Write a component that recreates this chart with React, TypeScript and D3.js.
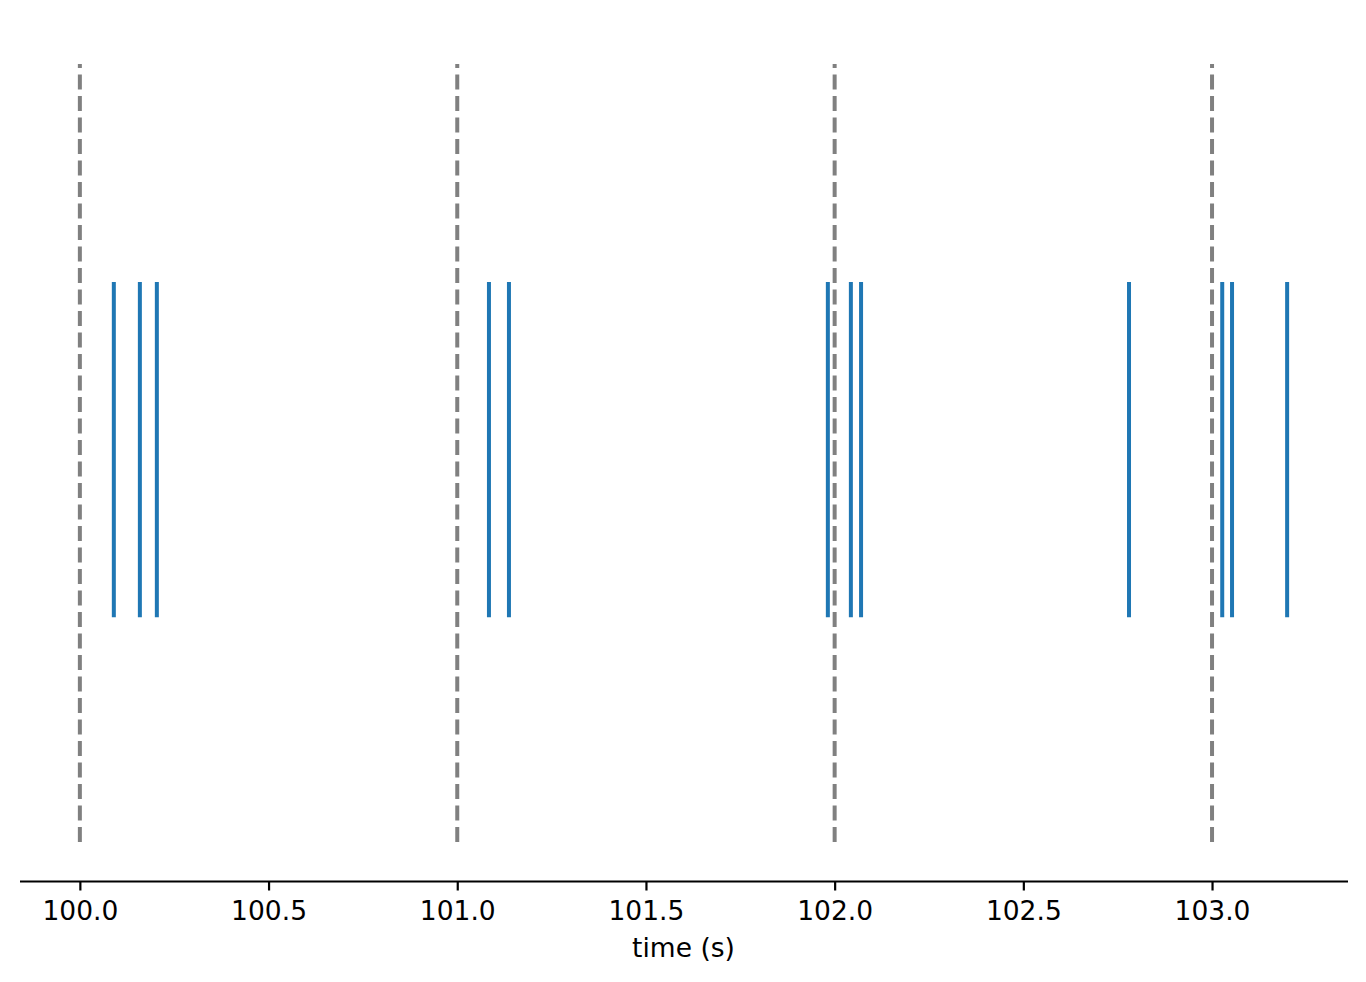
import React, { useEffect, useRef } from "react";
import * as d3 from "d3";

// spike times (s)
const spikeTimes = [
  100.09, 100.159, 100.204, 101.084, 101.137, 101.982, 102.043, 102.07,
  102.78, 103.027, 103.053, 103.199,
];
// second markers
const markerTimes = [100, 101, 102, 103];
const markerSpan = [-0.17, 2.15];
const spikeOffset = 1;
const spikeLength = 1;
const xTicks = [100.0, 100.5, 101.0, 101.5, 102.0, 102.5, 103.0];

const W = 1366;
const H = 982;

const App: React.FC = () => {
  const svgRef = useRef<SVGSVGElement>(null);

  useEffect(() => {
    if (!svgRef.current) return;
    const svg = d3.select(svgRef.current);
    svg.selectAll("*").remove();

    const left = 19.5;
    const right = 1347.5;
    const top = 25;
    const bottom = 881;

    const allX = [...spikeTimes, ...markerTimes];
    const xMin = d3.min(allX) as number;
    const xMax = d3.max(allX) as number;
    const xPad = (xMax - xMin) * 0.05;
    const x = d3
      .scaleLinear()
      .domain([xMin - xPad, xMax + xPad])
      .range([left, right]);

    const yPad = (markerSpan[1] - markerSpan[0]) * 0.05;
    const y = d3
      .scaleLinear()
      .domain([markerSpan[0] - yPad, markerSpan[1] + yPad])
      .range([bottom, top]);

    // dashed second markers
    svg
      .append("g")
      .selectAll("line")
      .data(markerTimes)
      .join("line")
      .attr("x1", (d) => x(d))
      .attr("x2", (d) => x(d))
      .attr("y1", y(markerSpan[0]))
      .attr("y2", y(markerSpan[1]))
      .attr("stroke", "#808080")
      .attr("stroke-width", 4)
      .attr("stroke-dasharray", "15,6.5");

    // spikes
    svg
      .append("g")
      .selectAll("line")
      .data(spikeTimes)
      .join("line")
      .attr("x1", (d) => x(d))
      .attr("x2", (d) => x(d))
      .attr("y1", y(spikeOffset - spikeLength / 2))
      .attr("y2", y(spikeOffset + spikeLength / 2))
      .attr("stroke", "#1f77b4")
      .attr("stroke-width", 4);

    // x axis
    const axis = svg
      .append("g")
      .attr("transform", `translate(0,${bottom})`)
      .call(
        d3
          .axisBottom(x)
          .tickValues(xTicks)
          .tickFormat(d3.format(".1f"))
          .tickSize(9.5)
          .tickSizeOuter(0)
          .tickPadding(11)
      );
    axis.select(".domain").attr("stroke", "#000").attr("stroke-width", 2.2);
    axis.selectAll(".tick line").attr("stroke", "#000").attr("stroke-width", 2.2);
    axis
      .selectAll(".tick text")
      .attr("fill", "#000")
      .style("font-family", "DejaVu Sans")
      .style("font-size", "26.5px");

    svg
      .append("text")
      .attr("x", (left + right) / 2)
      .attr("y", 957)
      .attr("text-anchor", "middle")
      .style("font-family", "DejaVu Sans")
      .style("font-size", "26.5px")
      .attr("fill", "#000")
      .text("time (s)");
  }, []);

  return (
    <svg
      ref={svgRef}
      width={W}
      height={H}
      style={{ position: "absolute", left: 0, top: 0, background: "#fff" }}
    />
  );
};

export default App;
